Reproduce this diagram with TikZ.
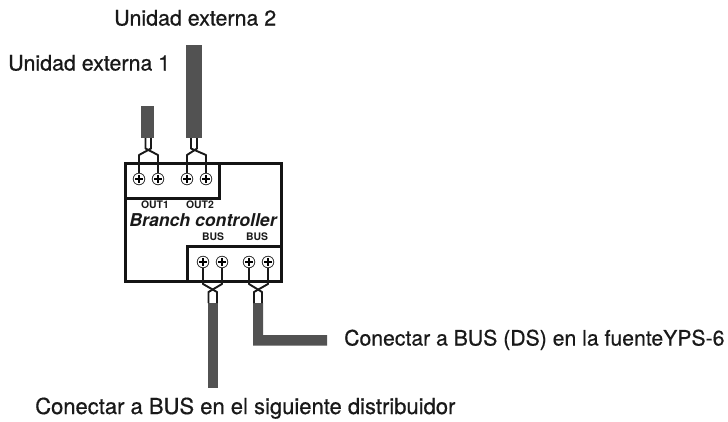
\documentclass[tikz,border=0pt]{standalone}
\usepackage{fontspec}
\setmainfont{TeX Gyre Heros}
\newfontfamily\medfont[FakeBold=0.6]{TeX Gyre Heros}
\tikzset{
  boxline/.style={draw=black!92,line width=3pt,line join=miter},
  wire/.style={draw=black!90,line width=1.9pt,line join=round},
  cable/.style={fill=black!68,draw=none},
  screw/.style={circle,draw=black!80,fill=white,line width=0.7pt,minimum size=11.5pt,inner sep=0pt},
  lab/.style={inner sep=0pt,anchor=base west,text=black!90},
  small/.style={font=\bfseries\fontsize{10.4pt}{12pt}\selectfont,inner sep=0pt,text=black!90,anchor=base},
}
\newcommand{\screwcross}[1]{%
  \draw[black,line width=2pt] ([xshift=-3.8pt]#1.center) -- ([xshift=3.8pt]#1.center) ([yshift=-3.8pt]#1.center) -- ([yshift=3.8pt]#1.center);}
\begin{document}
\begin{tikzpicture}[x=1pt,y=-1pt]
\useasboundingbox (0,0) rectangle (728,421);
% cables
\fill[cable] (141,106) rectangle (154,138);
\fill[cable] (186,45) rectangle (202,138);
\fill[cable] (207.5,303) rectangle (218,388);
\fill[cable] (253,303) -- (263,303) -- (263,335) -- (327,335) -- (327,345.5) -- (253,345.5) -- cycle;
% boxes
\draw[boxline] (125.5,163.5) rectangle (281.5,281.5);
\draw[boxline] (125.5,163.5) rectangle (219.5,198.5);
\draw[boxline] (187.5,246.5) rectangle (281.5,281.5);
% screws
\foreach \n/\x/\y in {a/139/179,b/158/179,c/187/179,d/206/179,e/203/262,f/222/262,g/249/262,h/268/262}{
  \node[screw] (\n) at (\x,\y) {};
}
% upper wires
\coordinate (c1a) at (145.5,138);
\coordinate (c1b) at (151,138);
\coordinate (c2a) at (191,138);
\coordinate (c2b) at (197,138);
\draw[wire] (a) -- (139,155) -- (151,148.5) -- (c1b);
\draw[wire] (b) -- (158,155) -- (145.5,148.5) -- (c1a);
\draw[wire] (c) -- (187,155) -- (197,148.5) -- (c2b);
\draw[wire] (d) -- (206,155) -- (191,148.5) -- (c2a);
% lower wires
\coordinate (c3a) at (208.5,303);
\coordinate (c3b) at (217,303);
\coordinate (c4a) at (254,303);
\coordinate (c4b) at (262,303);
\draw[wire] (e) -- (203,284) -- (217,292) -- (c3b);
\draw[wire] (f) -- (222,284) -- (208.5,292) -- (c3a);
\draw[wire] (g) -- (249,284) -- (262,292) -- (c4b);
\draw[wire] (h) -- (268,284) -- (254,292) -- (c4a);
% screw faces
\foreach \n in {a,b,c,d,e,f,g,h}{\node[screw] at (\n) {}; \screwcross{\n}}
% labels
\node[lab,font=\medfont\fontsize{21.4pt}{24pt}\selectfont] (u2) at (114,25.5) {Unidad externa 2};
\node[lab,font=\medfont\fontsize{21.4pt}{24pt}\selectfont] (u1) at (8,70.5) {Unidad externa 1};
\node[small] (o1) at (155,208.5) {OUT1};
\node[small] (o2) at (200,208.5) {OUT2};
\node[font=\bfseries\itshape\fontsize{17.7pt}{20pt}\selectfont,inner sep=0pt,anchor=base,text=black!90] (bc) at (203,226) {Branch controller};
\node[small] (b1) at (213,240.5) {BUS};
\node[small] (b2) at (257,240.5) {BUS};
\node[lab,font=\medfont\fontsize{21.2pt}{24pt}\selectfont] (ds) at (344,345.5) {Conectar a BUS (DS) en la fuenteYPS-6};
\node[lab,font=\medfont\fontsize{22pt}{24pt}\selectfont] (nx) at (35,414) {Conectar a BUS en el siguiente distribuidor};
\end{tikzpicture}
\end{document}
